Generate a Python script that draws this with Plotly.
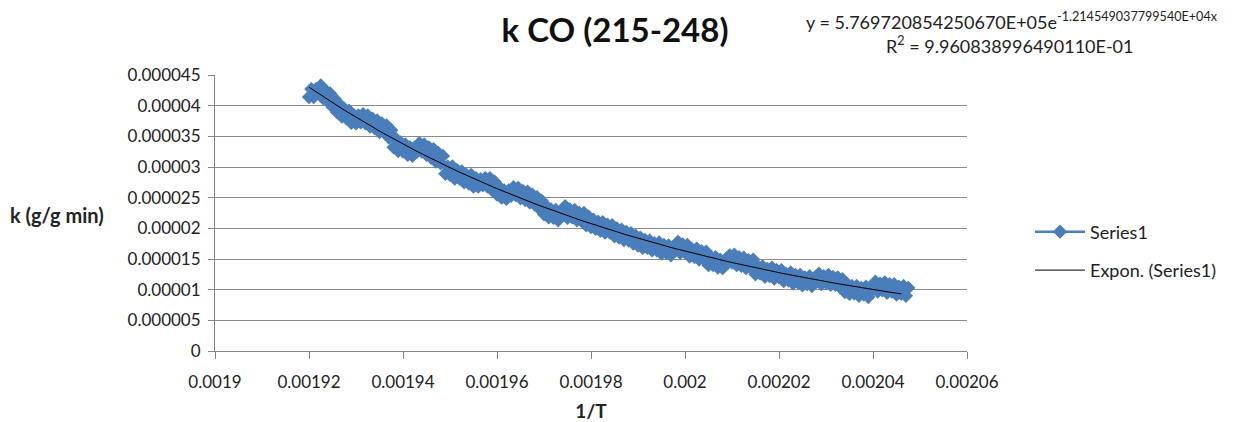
import plotly.graph_objects as go
import numpy as np

# ---- data (upper and lower edge points of the dense band) ----
x_start = 0.00192
x_step = 0.000001
k_lower_e5 = [
    4.14, 4.14, 4.20, 4.12, 4.07, 3.98, 3.89, 3.82, 3.79, 3.72,
    3.71, 3.73, 3.71, 3.66, 3.63, 3.57, 3.56, 3.48, 3.32, 3.26,
    3.25, 3.20, 3.18, 3.25, 3.25, 3.20, 3.15, 3.09, 3.06, 2.89,
    2.87, 2.81, 2.81, 2.75, 2.73, 2.68, 2.68, 2.70, 2.68, 2.62,
    2.55, 2.50, 2.48, 2.53, 2.54, 2.49, 2.46, 2.42, 2.39, 2.32,
    2.23, 2.18, 2.17, 2.13, 2.23, 2.17, 2.18, 2.13, 2.12, 2.05,
    2.02, 1.99, 1.96, 1.93, 1.93, 1.87, 1.85, 1.81, 1.80, 1.75,
    1.72, 1.68, 1.68, 1.64, 1.64, 1.59, 1.60, 1.56, 1.65, 1.60,
    1.61, 1.54, 1.53, 1.49, 1.50, 1.40, 1.40, 1.36, 1.35, 1.43,
    1.44, 1.40, 1.39, 1.35, 1.36, 1.25, 1.26, 1.21, 1.22, 1.18,
    1.20, 1.14, 1.15, 1.10, 1.12, 1.07, 1.09, 1.06, 1.13, 1.09,
    1.11, 1.08, 1.08, 1.04, 0.96, 0.93, 0.94, 0.90, 0.92, 0.88,
    1.01, 0.97, 0.99, 0.95, 0.97, 0.92, 0.93, 0.90,
]
k_upper_e5 = [
    4.27, 4.27, 4.33, 4.25, 4.20, 4.11, 4.02, 3.95, 3.92, 3.85,
    3.84, 3.86, 3.84, 3.79, 3.76, 3.71, 3.68, 3.60, 3.46, 3.40,
    3.37, 3.32, 3.32, 3.39, 3.37, 3.32, 3.29, 3.23, 3.18, 3.01,
    3.01, 2.95, 2.93, 2.87, 2.87, 2.82, 2.80, 2.82, 2.82, 2.76,
    2.67, 2.62, 2.62, 2.67, 2.66, 2.61, 2.60, 2.55, 2.51, 2.45,
    2.36, 2.31, 2.30, 2.25, 2.36, 2.31, 2.30, 2.25, 2.25, 2.19,
    2.14, 2.11, 2.10, 2.06, 2.05, 2.00, 1.98, 1.94, 1.92, 1.88,
    1.85, 1.81, 1.80, 1.76, 1.77, 1.73, 1.72, 1.68, 1.78, 1.74,
    1.73, 1.66, 1.67, 1.63, 1.62, 1.52, 1.53, 1.49, 1.48, 1.56,
    1.57, 1.53, 1.52, 1.48, 1.49, 1.38, 1.38, 1.34, 1.36, 1.32,
    1.32, 1.26, 1.28, 1.24, 1.24, 1.20, 1.22, 1.19, 1.26, 1.22,
    1.24, 1.21, 1.20, 1.17, 1.09, 1.06, 1.06, 1.03, 1.05, 1.02,
    1.13, 1.10, 1.12, 1.09, 1.09, 1.05, 1.06, 1.03,
]
inv_T = []
k_values = []
for i in range(len(k_lower_e5)):
    inv_T += [x_start + i * x_step, x_start + (i + 0.5) * x_step]
    k_values += [k_lower_e5[i] * 1e-5, k_upper_e5[i] * 1e-5]

# exponential trendline coefficients (from the chart's equation)
trend_a = 5.769720854250670E+05
trend_b = -1.214549037799540E+04

x_tickvals = [0.0019, 0.00192, 0.00194, 0.00196, 0.00198, 0.002, 0.00202, 0.00204, 0.00206]
x_ticktext = ["0.0019", "0.00192", "0.00194", "0.00196", "0.00198", "0.002", "0.00202", "0.00204", "0.00206"]
y_tickvals = [0, 0.000005, 0.00001, 0.000015, 0.00002, 0.000025, 0.00003, 0.000035, 0.00004, 0.000045]
y_ticktext = ["0", "0.000005", "0.00001", "0.000015", "0.00002", "0.000025", "0.00003", "0.000035", "0.00004", "0.000045"]

# ---- figure ----
FONT = "Lato"
blue = "#4A7EBB"
txt = "#222222"

L, R, T, B = 215, 967, 75, 351
PW, PH = R - L, B - T

tx = np.linspace(0.00192, 0.002046, 200)
ty = trend_a * np.exp(trend_b * tx)

fig = go.Figure()
fig.add_trace(go.Scatter(
    x=inv_T, y=k_values, mode="lines+markers", name="Series1",
    line=dict(color=blue, width=2.5),
    marker=dict(symbol="diamond", size=11, color=blue, line=dict(width=0)),
    legendgroup="a",
))
fig.add_trace(go.Scatter(
    x=tx, y=ty, mode="lines", name="Expon. (Series1)",
    line=dict(color="black", width=1),
    legendgroup="b",
))

fig.update_layout(
    width=1234, height=422,
    margin=dict(l=L, r=1234 - R, t=T, b=422 - B, autoexpand=False),
    paper_bgcolor="white", plot_bgcolor="white",
    font=dict(family=FONT, size=17, color=txt),
    showlegend=True,
    legend=dict(x=(1030 - L) / PW, y=(B - 251) / PH, xanchor="left", yanchor="middle",
                font=dict(family=FONT, size=18, color=txt),
                itemwidth=50, tracegroupgap=12, bgcolor="rgba(0,0,0,0)"),
    title=dict(text="<b>k CO (215-248)</b>", x=615 / 1234, xanchor="center",
               y=1 - 30 / 422, yanchor="middle",
               font=dict(family=FONT, size=33, color="#111111")),
)

fig.update_xaxes(
    range=[0.0019, 0.00206], tickvals=x_tickvals, ticktext=x_ticktext,
    showgrid=False, zeroline=False, automargin=False,
    showline=True, linecolor="#868686", linewidth=1,
    ticks="outside", ticklen=7, tickcolor="#868686", ticklabelstandoff=9,
    tickfont=dict(family=FONT, size=17, color=txt),
    title=dict(text="<b>1/T</b>", font=dict(family=FONT, size=19, color=txt), standoff=14),
)
fig.update_yaxes(
    range=[0, 0.000045], tickvals=y_tickvals, ticktext=y_ticktext,
    showgrid=True, gridcolor="#8C8C8C", gridwidth=1, zeroline=False, automargin=False,
    showline=True, linecolor="#868686", linewidth=1,
    ticks="outside", ticklen=6, tickcolor="#868686", ticklabelstandoff=4,
    tickfont=dict(family=FONT, size=17, color=txt),
    title=dict(text=""),
)

fig.add_annotation(
    text="<b>k (g/g min)</b>", xref="paper", yref="paper",
    x=(8 - L) / PW, y=(B - 215) / PH, xanchor="left", yanchor="middle",
    showarrow=False, font=dict(family=FONT, size=20, color=txt),
)
fig.add_annotation(
    text="y = 5.769720854250670E+05e<sup>-1.214549037799540E+04x</sup>",
    xref="paper", yref="paper", x=(1012 - L) / PW, y=(B - 21) / PH,
    xanchor="center", yanchor="middle", showarrow=False,
    font=dict(family=FONT, size=18, color=txt),
)
fig.add_annotation(
    text="R<sup>2</sup> = 9.960838996490110E-01",
    xref="paper", yref="paper", x=(1010 - L) / PW, y=(B - 45) / PH,
    xanchor="center", yanchor="middle", showarrow=False,
    font=dict(family=FONT, size=18, color=txt),
)

fig.write_html("out.html")
